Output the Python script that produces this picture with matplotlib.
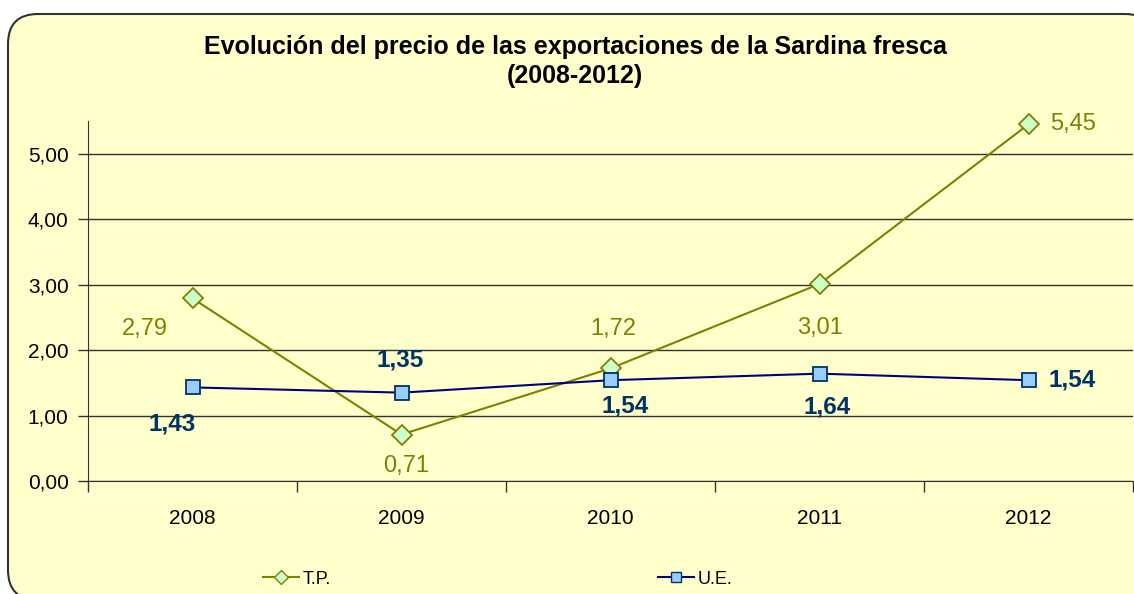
import numpy as np
import matplotlib.pyplot as plt
from matplotlib.patches import FancyBboxPatch
from matplotlib.transforms import IdentityTransform
from matplotlib.lines import Line2D

years = ['2008', '2009', '2010', '2011', '2012']
tp = [2.79, 0.71, 1.72, 3.01, 5.45]
ue = [1.43, 1.35, 1.54, 1.64, 1.54]
yticks = [0, 1, 2, 3, 4, 5]

font = ['Liberation Sans', 'DejaVu Sans']
olive = '#808000'
navy = '#000080'
label_blue = '#003366'

fig = plt.figure(figsize=(11.34, 5.94), dpi=100)
fig.patch.set_facecolor('white')

# rounded chart frame (pixel coords)
frame = FancyBboxPatch((8, -6), 1147, 586, boxstyle='round,pad=0,rounding_size=30',
                       transform=IdentityTransform(), facecolor='#FFFFCC',
                       edgecolor='#333333', linewidth=1.5, zorder=-5)
fig.patches.append(frame)

ax = fig.add_axes([88/1134, 113/594, 1045/1134, 360/594])
ax.set_facecolor('none')
ax.set_zorder(2)
x = np.arange(len(years))

ax.plot(x, tp, color=olive, lw=1.5, marker='D', ms=10, mfc='#CCFFCC', mec=olive, mew=1.3, zorder=3,
        clip_on=False)
ax.plot(x, ue, color=navy, lw=1.5, marker='s', ms=10, mfc='#99CCFF', mec=label_blue, mew=1.3, zorder=3,
        clip_on=False)

ax.set_xlim(-0.5, 4.5)
ax.set_ylim(0, 5.5)
ax.set_yticks(yticks)
ax.set_yticklabels([f'{v:.2f}'.replace('.', ',') for v in yticks], family=font, fontsize=15)
ax.set_xticks(x)
ax.set_xticklabels(years, family=font, fontsize=15)
ax.tick_params(axis='x', length=0, pad=20)
ax.set_xticks(np.arange(-0.5, 4.6, 1), minor=True)
ax.tick_params(axis='x', which='minor', length=8, direction='out', width=1, color='#333333')
ax.tick_params(axis='y', length=7, direction='out', width=1, color='#333333', pad=7)
ax.grid(axis='y', color='#333333', lw=1)
ax.set_axisbelow(True)
for s in ['top', 'right']:
    ax.spines[s].set_visible(False)
for s in ['left', 'bottom']:
    ax.spines[s].set_color('#333333')

def fmt(v):
    return f'{v:.2f}'.replace('.', ',')

# label offsets in pixels (x right, y up)
tp_off = [(-48, -31), (5, -31), (3, 39), (1, -44), (45, 0)]
ue_off = [(-20, -37), (-1, 33), (15, -26), (8, -33), (44, 0)]
for i in range(len(years)):
    ax.annotate(fmt(tp[i]), (x[i], tp[i]), xytext=(tp_off[i][0] * 0.72, tp_off[i][1] * 0.72),
                textcoords='offset points', ha='center', va='center', color=olive,
                family=font, fontsize=17)
    ax.annotate(fmt(ue[i]), (x[i], ue[i]), xytext=(ue_off[i][0] * 0.72, ue_off[i][1] * 0.72),
                textcoords='offset points', ha='center', va='center', color=label_blue,
                family=font, fontweight='bold', fontsize=17.5)

fig.text(575/1134, 1 - 47/594, 'Evolución del precio de las exportaciones de la Sardina fresca',
         ha='center', va='center', family=font, fontweight='bold', fontsize=18)
fig.text(575/1134, 1 - 76/594, '(2008-2012)',
         ha='center', va='center', family=font, fontweight='bold', fontsize=18)

h1 = Line2D([], [], color=olive, lw=1.5, marker='D', ms=7, mfc='#CCFFCC', mec=olive)
h2 = Line2D([], [], color=navy, lw=1.5, marker='s', ms=7, mfc='#99CCFF', mec=label_blue)
fig.legend([h1, h2], ['T.P.', 'U.E.'], loc='center left', bbox_to_anchor=(247/1134, 1 - 579/594),
           ncol=2, frameon=False, handlelength=2.0, handletextpad=0.2, columnspacing=18.1,
           prop={'family': font, 'size': 13})

fig.savefig('out.png', dpi=100)
